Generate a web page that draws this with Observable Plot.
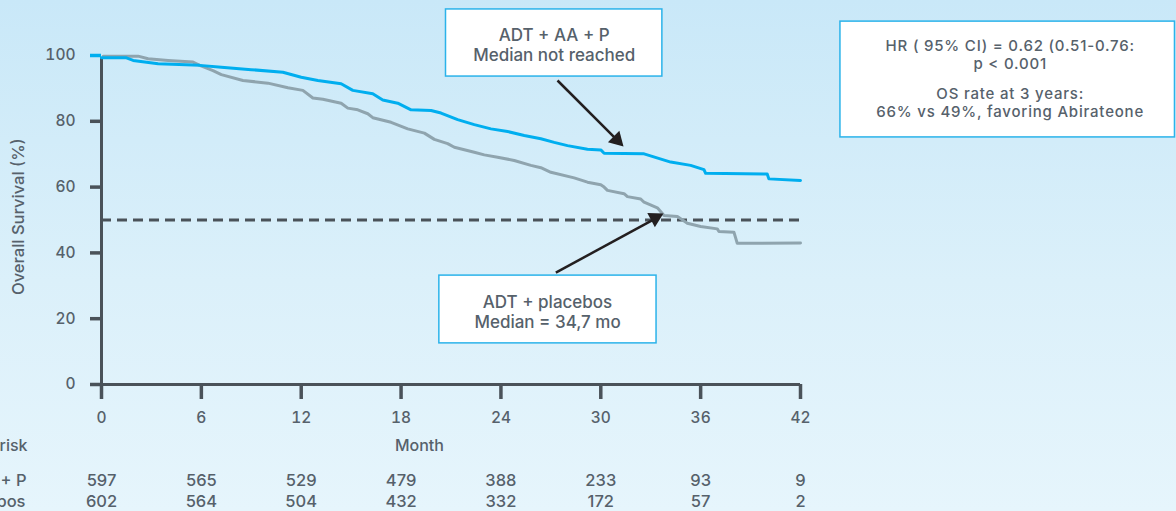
<!DOCTYPE html>
<html><head><meta charset="utf-8">
<script src="https://cdn.jsdelivr.net/npm/d3@7"></script>
<script src="https://cdn.jsdelivr.net/npm/@observablehq/plot@0.6"></script>
<style>
html,body{margin:0;padding:0;background:#d8eff9;}
#chart svg{display:block;}
.stat-text text{letter-spacing:0.8px;}
</style></head><body><div id="chart"></div>
<script>
// Kaplan-Meier curves (month, overall survival %)
const monthsAAP = [0,1.5,1.9,3.4,5.9,7.2,9.0,10.9,12.0,13.0,14.4,15.1,16.3,16.9,17.8,18.6,19.8,20.4,21.4,22.4,23.4,24.4,25.4,26.4,27.2,28.0,29.2,30.0,30.2,32.6,34.2,35.4,36.2,36.3,40.0,40.1,42.0];
const survAAP   = [99.3,99.3,98.5,97.5,97.0,96.4,95.7,94.9,93.4,92.4,91.4,89.4,88.4,86.5,85.5,83.5,83.3,82.5,80.5,79.0,77.7,76.9,75.7,74.7,73.6,72.6,71.5,71.3,70.3,70.1,67.6,66.6,65.3,64.2,64.0,62.5,62.0];
const monthsPBO = [0.1,2.2,2.8,4.0,5.5,5.9,6.7,7.2,8.5,10.0,11.2,12.1,12.7,13.3,14.4,14.8,15.4,16.0,16.3,17.4,18.4,19.4,20.0,20.8,21.2,22.4,23.0,23.8,24.8,25.8,26.4,27.0,28.4,29.2,30.0,30.2,30.4,31.4,31.6,32.4,32.6,33.4,33.8,34.6,35.2,36.0,37.0,37.1,38.0,38.2,42.0];
const survPBO   = [99.8,99.8,99.0,98.5,98.0,97.0,95.4,94.2,92.4,91.6,90.2,89.4,87.1,86.7,85.5,84.0,83.5,82.3,81.1,79.7,77.7,76.4,74.5,73.2,72.1,70.6,69.8,69.1,68.1,66.6,65.9,64.5,62.8,61.5,60.7,60.0,59.0,58.0,57.1,56.4,55.4,53.7,51.4,51.1,49.0,48.0,47.3,46.5,46.3,42.9,43.0];

// Number at risk table
const riskTimes = [0,6,12,18,24,30,36,42];
const riskAAP   = [597,565,529,479,388,233,93,9];
const riskPBO   = [602,564,504,432,332,172,57,2];
const groupNames = ["ADT + AA + P","ADT + placebos"];
const yTicks = [0,20,40,60,80];
const medianLevel = [50];

// Annotation texts
const box1Lines = ["ADT + AA + P","Median not reached"];
const box2Lines = ["ADT + placebos","Median = 34,7 mo"];
const statLines = ["HR ( 95% CI) = 0.62 (0.51-0.76:","p < 0.001","OS rate at 3 years:","66% vs 49%, favoring Abirateone"];

const aap = monthsAAP.map((m,i)=>({month:m, surv:survAAP[i]}));
const pbo = monthsPBO.map((m,i)=>({month:m, surv:survPBO[i]}));

// annotation placement (data units)
const boxes = [
  {x1:20.7, x2:33.7, y1:93.6, y2:114.0},
  {x1:20.3, x2:33.35, y1:12.5, y2:33.1},
  {x1:44.4, x2:64.5, y1:75.1, y2:110.3}
];
const box1Pos = [{x:27.2, y:106.2},{x:27.2, y:100.0}];
const box2Pos = [{x:26.8, y:25.0},{x:26.8, y:18.8}];
const statPos = [{x:54.6, y:102.7},{x:54.6, y:97.3},{x:54.6, y:88.1},{x:54.6, y:82.7}];
const arrows = [
  {x1:27.4, y1:92.4, x2:31.0, y2:74.2, rot:135, dx:-6.5, dy:-6.5},
  {x1:27.3, y1:34.0, x2:33.3, y2:50.5, rot:62, dx:-8.1, dy:4.3}
];

const axisInk = "#4a5259";
const textInk = "#56616b";
const blue = "#00aeef";
const grey = "#8fa4ae";
const W = 500;

const chart = Plot.plot({
  width: 1176,
  height: 511,
  marginLeft: 101,
  marginRight: 376,
  marginTop: 55,
  marginBottom: 127,
  style: {
    fontFamily: "Inter, 'Open Sans', sans-serif",
    background: "linear-gradient(180deg, #c9e8f8 0%, #dbf0fa 55%, #e6f5fc 100%)",
    color: textInk
  },
  x: {domain: [0, 42]},
  y: {domain: [0, 100]},
  marks: [
    // axes
    Plot.axisY({ticks: yTicks, tickSize: 11, tickPadding: 15, strokeWidth: 3.5, stroke: axisInk, fill: textInk, fontSize: 15.5, fontWeight: W, label: null}),
    Plot.axisY({ticks: [100], tickSize: 11, tickPadding: 15, strokeWidth: 3.5, stroke: blue, fill: textInk, fontSize: 15.5, fontWeight: W, label: null}),
    Plot.axisX({ticks: riskTimes, tickSize: 15, tickPadding: 12, strokeWidth: 3.5, stroke: axisInk, fill: textInk, fontSize: 15.5, fontWeight: W, label: null}),
    Plot.ruleY([0], {x1: 0, x2: 42, stroke: axisInk, strokeWidth: 3}),
    Plot.ruleX([0], {y1: 0, y2: 99.3, stroke: axisInk, strokeWidth: 3}),
    Plot.text(["Overall Survival (%)"], {x: 0, y: 51, dx: -83, rotate: -90, text: d => d, fontSize: 16.5, fontWeight: W, fill: textInk}),
    // median line
    Plot.ruleY(medianLevel, {x1: 0, x2: 42, stroke: axisInk, strokeWidth: 3, strokeDasharray: "10,6"}),
    // curves
    Plot.line(pbo, {x: "month", y: "surv", stroke: grey, strokeWidth: 3}),
    Plot.line(aap, {x: "month", y: "surv", stroke: blue, strokeWidth: 3}),
    // arrows
    Plot.link(arrows, {x1: "x1", y1: "y1", x2: "x2", y2: "y2", stroke: "#231f20", strokeWidth: 2.5}),
    Plot.dot(arrows, {x: "x2", y: "y2", symbol: "triangle", r: 6, fill: "#231f20", stroke: null, rotate: "rot", dx: "dx", dy: "dy"}),
    // annotation boxes
    Plot.rect(boxes, {x1: "x1", x2: "x2", y1: "y1", y2: "y2", fill: "white", stroke: "#2bb3ea", strokeWidth: 1.5}),
    Plot.text(box1Pos, {x: "x", y: "y", text: (d, i) => box1Lines[i], fontSize: 17, fill: textInk, fontWeight: W}),
    Plot.text(box2Pos, {x: "x", y: "y", text: (d, i) => box2Lines[i], fontSize: 17, fill: textInk, fontWeight: W}),
    Plot.text(statPos, {x: "x", y: "y", text: (d, i) => statLines[i], fontSize: 15, fill: textInk, fontWeight: W, className: "stat-text"}),
    // x label
    Plot.text(["Month"], {x: 19.1, y: 0, dy: 61, text: d => d, fontSize: 16, fontWeight: W, fill: textInk}),
    // number at risk
    Plot.text(["Number at risk"], {x: 0, y: 0, dx: -74, dy: 61, text: d => d, textAnchor: "end", fontSize: 16, fontWeight: W, fill: textInk}),
    Plot.text([groupNames[0]], {x: 0, y: 0, dx: -75, dy: 96, text: d => d, textAnchor: "end", fontSize: 16.5, fontWeight: W, fill: textInk}),
    Plot.text([groupNames[1]], {x: 0, y: 0, dx: -76, dy: 117, text: d => d, textAnchor: "end", fontSize: 16.5, fontWeight: W, fill: textInk}),
    Plot.text(riskTimes, {x: d => d, y: 0, dy: 96, text: (d, i) => String(riskAAP[i]), fontSize: 16.5, fontWeight: W, fill: textInk}),
    Plot.text(riskTimes, {x: d => d, y: 0, dy: 117, text: (d, i) => String(riskPBO[i]), fontSize: 16.5, fontWeight: W, fill: textInk})
  ]
});
document.getElementById("chart").append(chart);
</script>
</body></html>
